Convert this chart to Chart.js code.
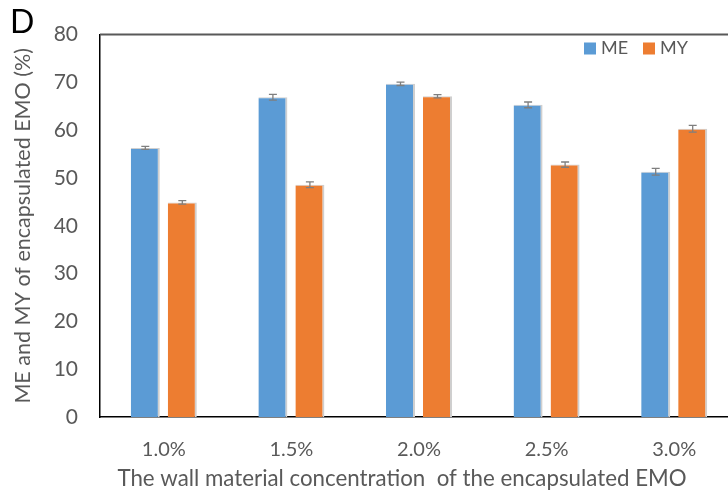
<!DOCTYPE html>
<html lang="en">
<head>
<meta charset="UTF-8" />
<title>ME and MY of encapsulated EMO</title>
<script src="https://cdn.jsdelivr.net/npm/chart.js"></script>
<style>
  html, body {
    margin: 0;
    padding: 0;
    background: #fff;
    overflow: hidden;
  }
  #wrap {
    position: relative;
    width: 728px;
    height: 492px;
    overflow: hidden;
  }
  #panel {
    position: absolute;
    left: 10px;
    top: 1px;
    font-family: Lato, "Liberation Sans", sans-serif;
    font-size: 32px;
    color: #000;
  }
</style>
</head>
<body>
<div id="wrap">
  <canvas id="chart" width="738" height="492"></canvas>
  <div id="panel">D</div>
</div>

<script>
  // wall material concentration groups
  const categories = ['1.0%', '1.5%', '2.0%', '2.5%', '3.0%'];
  // microencapsulation efficiency / yield (%)
  const meValues = [56.3, 66.9, 69.7, 65.3, 51.3];
  const myValues = [44.9, 48.6, 67.1, 52.8, 60.3];
  // standard deviations
  const meErr = [0.3, 0.6, 0.35, 0.6, 0.7];
  const myErr = [0.35, 0.6, 0.35, 0.55, 0.7];
  const yTicks = { min: 0, max: 80, step: 10 };
  const xTitle = 'The wall material concentration  of the encapsulated EMO';
  const yTitle = 'ME and MY of encapsulated EMO (%)';

  const FONT = 'Lato, "Liberation Sans", sans-serif';
  const GREY = '#595959';

  // error bars drawn on top of each bar
  const errorBars = {
    id: 'errorBars',
    afterDatasetsDraw(chart) {
      const ctx = chart.ctx;
      const y = chart.scales.y;
      const errs = [meErr, myErr];
      ctx.save();
      ctx.strokeStyle = '#7f7f7f';
      ctx.lineWidth = 1.3;
      chart.data.datasets.forEach((ds, i) => {
        chart.getDatasetMeta(i).data.forEach((bar, j) => {
          const v = ds.data[j], e = errs[i][j];
          const top = y.getPixelForValue(v + e);
          const bot = y.getPixelForValue(v - e);
          ctx.beginPath();
          ctx.moveTo(bar.x, top); ctx.lineTo(bar.x, bot);
          ctx.moveTo(bar.x - 4, top); ctx.lineTo(bar.x + 4, top);
          ctx.moveTo(bar.x - 4, bot); ctx.lineTo(bar.x + 4, bot);
          ctx.stroke();
        });
      });
      ctx.restore();
    }
  };

  // top frame line, x title (centred on the visible area) and legend
  const frameAndLegend = {
    id: 'frameAndLegend',
    afterDraw(chart) {
      const ctx = chart.ctx;
      const a = chart.chartArea;
      ctx.save();
      ctx.strokeStyle = GREY;
      ctx.lineWidth = 2;
      ctx.beginPath();
      ctx.moveTo(a.left, a.top);
      ctx.lineTo(a.right, a.top);
      ctx.stroke();

      ctx.fillStyle = GREY;
      ctx.font = '22.3px ' + FONT;
      ctx.textAlign = 'center';
      ctx.textBaseline = 'middle';
      ctx.fillText(xTitle, 402, 479);

      ctx.font = '18px ' + FONT;
      ctx.textAlign = 'left';
      let x = 584;
      const yc = 48.5;
      chart.data.datasets.forEach(ds => {
        ctx.fillStyle = ds.backgroundColor;
        ctx.fillRect(x, yc - 6, 12, 12);
        ctx.fillStyle = GREY;
        ctx.fillText(ds.label, x + 17, yc);
        x += 59;
      });
      ctx.restore();
    }
  };

  new Chart(document.getElementById('chart'), {
    type: 'bar',
    data: {
      labels: categories,
      datasets: [
        {
          label: 'ME',
          data: meValues,
          backgroundColor: '#5b9bd5',
          borderColor: '#cfcfcf',
          borderWidth: { top: 1, right: 2, left: 0, bottom: 0 },
          categoryPercentage: 0.58,
          barPercentage: 0.784
        },
        {
          label: 'MY',
          data: myValues,
          backgroundColor: '#ed7d31',
          borderColor: '#cfcfcf',
          borderWidth: { top: 1, right: 2, left: 0, bottom: 0 },
          categoryPercentage: 0.58,
          barPercentage: 0.784
        }
      ]
    },
    options: {
      responsive: false,
      animation: false,
      devicePixelRatio: 1,
      layout: { padding: { top: 23, right: 0, left: 0, bottom: 0 } },
      plugins: {
        legend: { display: false },
        tooltip: { enabled: false }
      },
      scales: {
        x: {
          grid: { display: false, drawTicks: false },
          border: { display: true, color: '#000', width: 1.5 },
          ticks: {
            color: GREY,
            font: { family: FONT, size: 20 },
            padding: 21
          },
          afterFit(scale) { scale.height = 75; }
        },
        y: {
          min: yTicks.min,
          max: yTicks.max,
          grid: { display: false, drawTicks: false },
          border: { display: true, color: '#000', width: 1.5 },
          ticks: {
            stepSize: yTicks.step,
            color: GREY,
            font: { family: FONT, size: 21 },
            padding: 22
          },
          title: {
            display: true,
            text: yTitle,
            color: GREY,
            font: { family: FONT, size: 21.5 },
            padding: { top: 10, bottom: 0 }
          },
          afterFit(scale) { scale.width = 100; }
        }
      }
    },
    plugins: [errorBars, frameAndLegend]
  });
</script>
</body>
</html>
